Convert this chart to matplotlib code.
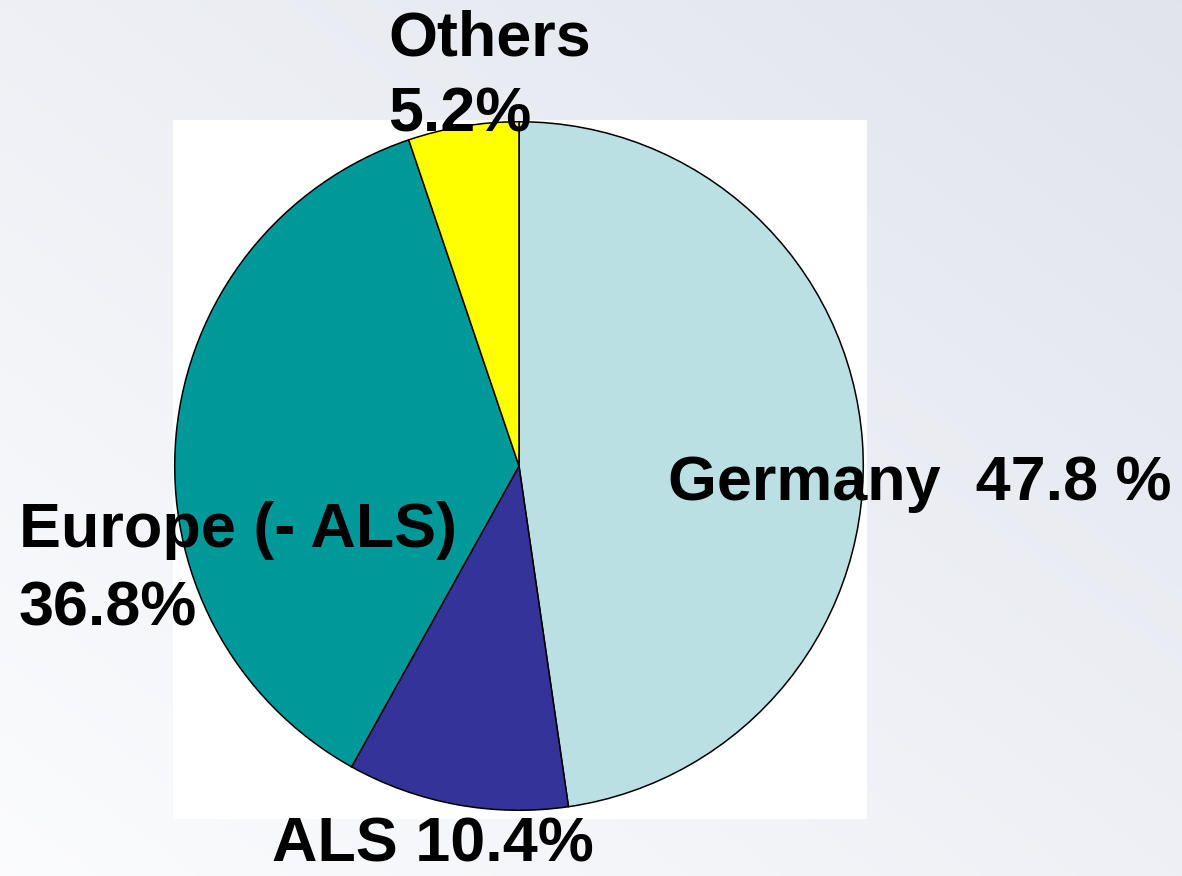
import numpy as np
import matplotlib
matplotlib.use("Agg")
import matplotlib.pyplot as plt
from matplotlib.patches import Rectangle

# Data
categories = ["Germany", "ALS", "Europe (- ALS)", "Others"]
shares = [47.8, 10.4, 36.8, 5.2]
colors = ["#BBE0E3", "#333399", "#009999", "#FFFF00"]
label_lines = [["Germany  47.8 %"], ["ALS 10.4%"], ["Europe (- ALS)", "36.8%"], ["Others", "5.2%"]]

W, H = 1182, 876
fig = plt.figure(figsize=(W / 100, H / 100), dpi=100)

# Gradient background
bg = fig.add_axes([0, 0, 1, 1], zorder=0)
yy, xx = np.mgrid[0:1:200j, 0:1:200j]  # yy: 0 top -> 1 bottom
t = (xx + (1 - yy)) / 2.0  # 0 bottom-left, 1 top-right
light = np.array([0.985, 0.988, 0.993])
dark = np.array([0.882, 0.894, 0.930])
img = light[None, None, :] * (1 - t[..., None]) + dark[None, None, :] * t[..., None]
bg.imshow(img, extent=[0, 1, 0, 1], aspect="auto", origin="upper")
bg.set_xlim(0, 1)
bg.set_ylim(0, 1)
bg.axis("off")

# White panel behind pie
fig.patches.append(Rectangle((173 / W, 1 - 819 / H), (867 - 173) / W, (819 - 120) / H,
                             transform=fig.transFigure, facecolor="white", edgecolor="none", zorder=1))

# Pie
cx, cy, r = 519, 466, 346
ax = fig.add_axes([(cx - r) / W, 1 - (cy + r) / H, 2 * r / W, 2 * r / H], zorder=2)
ax.pie(shares, colors=colors, startangle=90, counterclock=False,
       wedgeprops=dict(edgecolor="black", linewidth=1.1), radius=1.0)
ax.set_xlim(-1.005, 1.005)
ax.set_ylim(-1.005, 1.005)
ax.set_aspect("equal")
ax.axis("off")

# Labels (left x, baselines in pixels)
positions = [(668, [500]), (272, [862]), (19, [547, 625]), (388, [56, 131])]
fs = 45.3
for lines, (lx, bases) in zip(label_lines, positions):
    for line, b in zip(lines, bases):
        fig.text(lx / W, 1 - b / H, line, fontsize=fs, fontweight="bold",
                 family="Liberation Sans", ha="left", va="baseline", color="black", zorder=5)

fig.savefig("out.png", dpi=100)
